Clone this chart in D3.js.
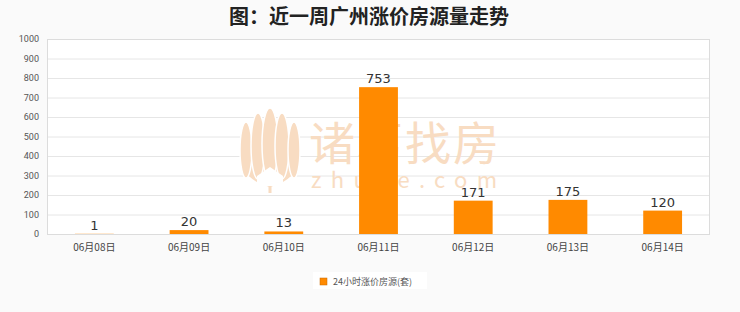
<!DOCTYPE html>
<html><head><meta charset="utf-8">
<script src="https://cdn.jsdelivr.net/npm/d3@7"></script>
<style>
html,body{margin:0;padding:0;background:#fafafa;}
svg{display:block;}
</style></head>
<body>
<svg id="c" width="740" height="312"></svg>
<script>
const categories = ["06月08日","06月09日","06月10日","06月11日","06月12日","06月13日","06月14日"];
const values = [1,20,13,753,171,175,120];
const yTicks = [0,100,200,300,400,500,600,700,800,900,1000];
const seriesName = "24小时涨价房源(套)";
const title = "图：近一周广州涨价房源量走势";

const svg = d3.select("#c");
const m = {l:47, r:710, t:39, b:234};
const x = d3.scaleBand().domain(categories).range([m.l, m.r]).paddingInner(0.59).paddingOuter(0.295);
const y = d3.scaleLinear().domain([0,1000]).range([m.b, m.t]);

svg.append("rect").attr("width",740).attr("height",312).attr("fill","#fafafa");
svg.append("rect").attr("x",m.l).attr("y",m.t).attr("width",m.r-m.l).attr("height",m.b-m.t).attr("fill","#fff");

// title
svg.append("text").attr("x",369).attr("y",24).attr("text-anchor","middle")
  .attr("font-family","'Noto Sans CJK SC',sans-serif").attr("font-weight","bold").attr("font-size",20).attr("fill","#222").text(title);

// grid
svg.append("g").selectAll("line").data(yTicks).join("line")
  .attr("x1",m.l).attr("x2",m.r).attr("y1",d=>y(d)+0.5).attr("y2",d=>y(d)+0.5)
  .attr("stroke","#e6e6e6").attr("stroke-width",1);
// border
svg.append("rect").attr("x",m.l+0.5).attr("y",m.t+0.5).attr("width",m.r-m.l-1).attr("height",m.b-m.t)
  .attr("fill","none").attr("stroke","#dcdcdc");

// watermark
const wm = svg.append("g").attr("fill","#f8dcc2").attr("font-family","'Noto Sans CJK SC',sans-serif");
wm.append("text").attr("x",309).attr("y",160).attr("font-size",46).attr("textLength",190).text("诸葛找房");
wm.append("text").attr("x",311).attr("y",188).attr("font-size",22).attr("textLength",186).attr("lengthAdjust","spacing").text("zhuge.com");
const lg = wm.append("g").attr("transform","translate(270,155)");
lg.append("path").attr("d","M-30,0 Q-28,25 0,32 Q28,25 30,0 Z");
[[-24,0,6,28],[-12,-4,7,33],[0,-6,8,36],[12,-4,7,33],[24,0,6,28]].forEach(p=>{
  lg.append("ellipse").attr("cx",p[0]).attr("cy",p[1]-5).attr("rx",p[2]).attr("ry",p[3]).attr("stroke","#fff").attr("stroke-width",1.5);
});
lg.append("path").attr("d","M-13,21 L0,12 L13,21 L13,31 L-13,31 Z").attr("fill","#fff");
lg.append("rect").attr("x",-1.5).attr("y",31).attr("width",3).attr("height",7);

// bars
svg.append("g").selectAll("rect").data(values).join("rect")
  .attr("x",(d,i)=>x(categories[i])).attr("width",x.bandwidth())
  .attr("y",d=>y(d)).attr("height",d=>m.b-y(d)).attr("fill","#ff8a00");

// value labels
svg.append("g").selectAll("text").data(values).join("text")
  .attr("x",(d,i)=>x(categories[i])+x.bandwidth()/2).attr("y",d=>y(d)-4)
  .attr("text-anchor","middle").attr("font-family","'DejaVu Sans',sans-serif").attr("font-size",13).attr("fill","#333").text(d=>d);

// y axis labels
svg.append("g").selectAll("text").data(yTicks).join("text")
  .attr("x",39).attr("y",d=>y(d)+3).attr("text-anchor","end")
  .attr("font-family","Roboto,sans-serif").attr("font-size",9).attr("fill","#555").text(d=>d);

// x axis labels
svg.append("g").selectAll("text").data(categories).join("text")
  .attr("x",d=>x(d)+x.bandwidth()/2).attr("y",251).attr("text-anchor","middle")
  .attr("font-family","'Noto Sans CJK SC',serif").attr("font-size",10).attr("fill","#444").text(d=>d);

// legend
const leg = svg.append("g");
leg.append("rect").attr("x",313).attr("y",272).attr("width",114).attr("height",17).attr("fill","#fff");
leg.append("rect").attr("x",320).attr("y",278).attr("width",7).attr("height",7).attr("fill","#ff8a00").attr("stroke","#c86a00").attr("stroke-width",0.5);
leg.append("text").attr("x",333).attr("y",284.5).attr("font-family","'Noto Sans CJK SC',sans-serif").attr("font-size",9).attr("fill","#555").text(seriesName);
</script>
</body></html>
